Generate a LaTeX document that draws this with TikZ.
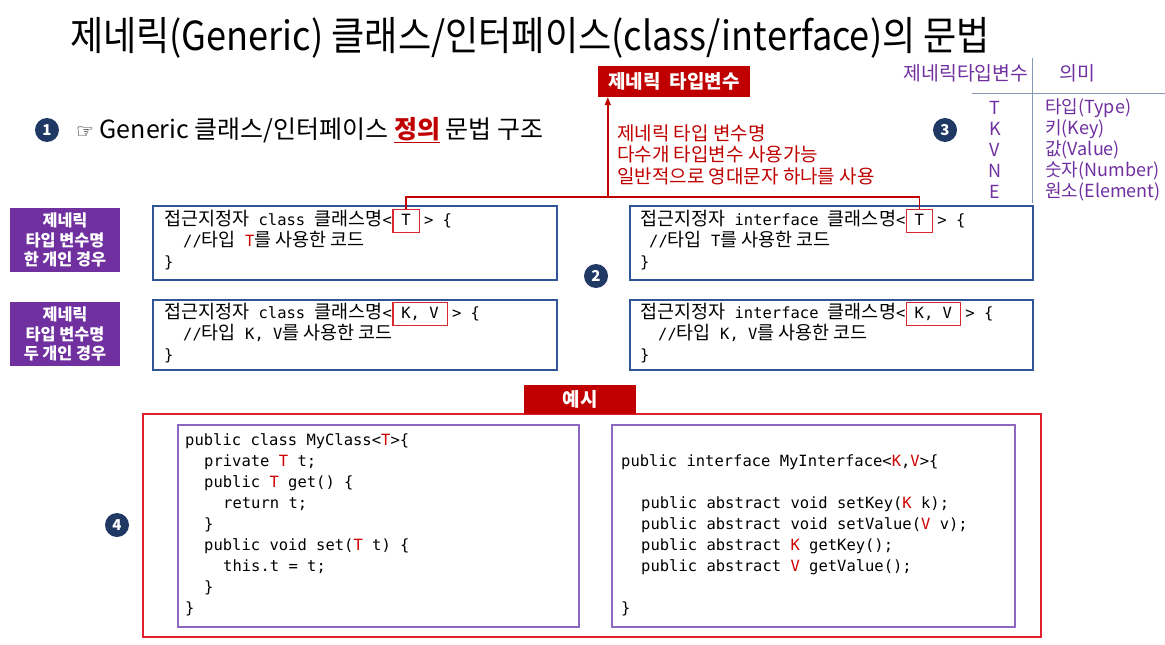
\documentclass[tikz,border=0pt]{standalone}
\usepackage{fontspec}
\usepackage{graphicx}
\setmainfont{Noto Sans CJK KR}
\setmonofont{DejaVu Sans Mono}
\newfontfamily\korfont{Noto Sans CJK KR}
\newfontfamily\symfont{DejaVu Sans}
\usetikzlibrary{arrows.meta}

\definecolor{darkred}{HTML}{C00000}
\definecolor{lblpurple}{HTML}{7030A0}
\definecolor{navy}{HTML}{1F3864}
\definecolor{codeblue}{HTML}{2F5597}
\definecolor{tred}{HTML}{D62830}
\definecolor{exred}{HTML}{E0202E}
\definecolor{expurple}{HTML}{8C68C0}
\definecolor{tblpurple}{HTML}{7030A0}
\definecolor{tblline}{HTML}{8497B0}
\definecolor{kred}{HTML}{D00000}

\newcommand\codefont{\fontsize{15.5}{21}\selectfont\ttfamily}
\newcommand\hk[1]{{\fontsize{18.5}{21}\selectfont\korfont #1}}
\newcommand\R[1]{\textcolor{kred}{#1}}

\tikzset{
  code/.style={anchor=base west, inner sep=0pt, font=\codefont},
  codebox/.style={draw=codeblue, line width=1.4pt, fill=white},
  tbox/.style={draw=tred, line width=1.3pt, inner xsep=8.5pt, inner ysep=4.5pt,
    font=\codefont, text height=11pt, text depth=3pt, anchor=base west},
  lbl/.style={fill=lblpurple, text=white, align=center,
    font=\fontsize{16.3}{19.5}\selectfont\bfseries, minimum width=110pt, minimum height=64pt},
  tag/.style={fill=darkred, text=white, font=\fontsize{19}{22}\selectfont\bfseries},
  num/.style={circle, fill=navy, text=white, inner sep=0pt, minimum size=24pt,
    font=\fontsize{15}{15}\selectfont\bfseries},
  tbl/.style={text=tblpurple, font=\fontsize{18}{20}\selectfont, inner sep=0pt},
  tblrule/.style={draw=tblline, line width=0.9pt},
  conn/.style={draw=darkred, line width=1.4pt},
}

\begin{document}
\begin{tikzpicture}[x=1pt, y=-1pt]
\useasboundingbox[fill=white] (0,0) rectangle (1165,645);

% title
\node (title) at (530,38) {\resizebox{920pt}{\height}{\fontsize{40}{44}\selectfont 제네릭(Generic) 클래스/인터페이스(class/interface)의 문법}};

% item 1
\node[num] (n1) at (47,130) {1};
\node[anchor=west, inner sep=0pt, font=\fontsize{25}{28}\selectfont] (s1) at (76,130)
  {{\symfont\fontsize{20}{22}\selectfont ☞}\ Generic 클래스/인터페이스 \textcolor{darkred}{\underline{\textbf{정의}}} 문법 구조};

% type-variable tag and notes
\node[tag, minimum width=152pt, minimum height=31pt] (tv) at (674,81.5) {제네릭\ \ 타입변수};
\node[anchor=west, align=left, text=darkred, inner sep=0pt,
      font=\fontsize{19}{21.5}\selectfont] (notes) at (617,154.5)
  {제네릭 타입 변수명\\다수개 타입변수 사용가능\\일반적으로 영대문자 하나를 사용};

% table of conventional names
\node[tbl, font=\fontsize{19.4}{20}\selectfont] (th1) at (966,73) {제네릭타입변수};
\node[tbl, font=\fontsize{19.4}{20}\selectfont] (th2) at (1077,73) {의미};
\draw[tblrule] (1032,58) -- (1032,203);
\draw[tblrule] (972,93) -- (1165,93);
\node[num] (n3) at (945,130) {3};
\foreach \y/\k/\m [count=\i] in {108/T/타입(Type), 129/K/키(Key), 150/V/값(Value), 171/N/숫자(Number), 192/E/원소(Element)}{
  \node[tbl] (tk\i) at (995,\y) {\k};
  \node[tbl, anchor=west] (tm\i) at (1045,\y) {\m};
}

% labels
\node[lbl] (l1) at (65,240) {제네릭\\타입 변수명\\한 개인 경우};
\node[lbl] (l2) at (65,334) {제네릭\\타입 변수명\\두 개인 경우};

% syntax boxes
\node[codebox, minimum width=404pt, minimum height=74pt] (b1) at (355,243) {};
\node[codebox, minimum width=404pt, minimum height=70pt] (b2) at (355,335) {};
\node[codebox, minimum width=403pt, minimum height=74pt] (b3) at (831.5,243) {};
\node[codebox, minimum width=403pt, minimum height=70pt] (b4) at (831.5,335) {};
\node[num] (n2) at (596,276) {2};

% box 1
\node[code] (c1a) at (164,225) {\hk{접근지정자} class \hk{클래스명}<};
\node[tbox] (t1) at (c1a.base east) {T};
\node[code] (c1b) at ([xshift=4pt]t1.base east) {> \{};
\node[code] (c1c) at (183,246) {//\hk{타입} \R{T}\hk{를 사용한 코드}};
\node[code] (c1d) at (164,267) {\}};

% box 2
\node[code] (c2a) at (164,318) {\hk{접근지정자} class \hk{클래스명}<};
\node[tbox] (t2) at (c2a.base east) {K, V};
\node[code] (c2b) at ([xshift=4pt]t2.base east) {> \{};
\node[code] (c2c) at (183,339) {//\hk{타입} K, V\hk{를 사용한 코드}};
\node[code] (c2d) at (164,360) {\}};

% box 3
\node[code] (c3a) at (640,225) {\hk{접근지정자} interface \hk{클래스명}<};
\node[tbox] (t3) at (c3a.base east) {T};
\node[code] (c3b) at ([xshift=4pt]t3.base east) {> \{};
\node[code] (c3c) at (649,246) {//\hk{타입} T\hk{를 사용한 코드}};
\node[code] (c3d) at (640,267) {\}};

% box 4
\node[code] (c4a) at (640,318) {\hk{접근지정자} interface \hk{클래스명}<};
\node[tbox] (t4) at (c4a.base east) {K, V};
\node[code] (c4b) at ([xshift=4pt]t4.base east) {> \{};
\node[code] (c4c) at (658,339) {//\hk{타입} K, V\hk{를 사용한 코드}};
\node[code] (c4d) at (640,360) {\}};

% connector from the type parameters to the tag
\draw[conn] (t1.north) -- ++(0,-12) coordinate (hl) -| (t3.north);
\path (tv.south west) ++(10,0) coordinate (tva);
\draw[conn, -{Triangle[length=8pt, width=6pt]}] (tva |- hl) -- (tva);

% example
\node[draw=exred, line width=1.4pt, minimum width=898pt, minimum height=223pt] (ex) at (592,525.5) {};
\node[tag, minimum width=112pt, minimum height=29pt] (ext) at (580,399.5) {예시};
\node[num] (n4) at (117,525) {4};
\node[draw=expurple, line width=1.4pt, minimum width=401pt, minimum height=202pt] (e1) at (378.5,526) {};
\node[draw=expurple, line width=1.4pt, minimum width=403pt, minimum height=202pt] (e2) at (813.5,526) {};

\node[code] (p1) at (185,445) {public class MyClass<\R{T}>\{};
\node[code] (p2) at (204,466) {private \R{T} t;};
\node[code] (p3) at (204,487) {public \R{T} get() \{};
\node[code] (p4) at (223,508) {return t;};
\node[code] (p5) at (204,529) {\}};
\node[code] (p6) at (204,550) {public void set(\R{T} t) \{};
\node[code] (p7) at (223,571) {this.t = t;};
\node[code] (p8) at (204,592) {\}};
\node[code] (p9) at (185,613) {\}};

\node[code] (q1) at (621,466) {public interface MyInterface<\R{K},\R{V}>\{};
\node[code] (q2) at (641,508) {public abstract void setKey(\R{K} k);};
\node[code] (q3) at (641,529) {public abstract void setValue(\R{V} v);};
\node[code] (q4) at (641,550) {public abstract \R{K} getKey();};
\node[code] (q5) at (641,571) {public abstract \R{V} getValue();};
\node[code] (q6) at (621,613) {\}};
\end{tikzpicture}
\end{document}
